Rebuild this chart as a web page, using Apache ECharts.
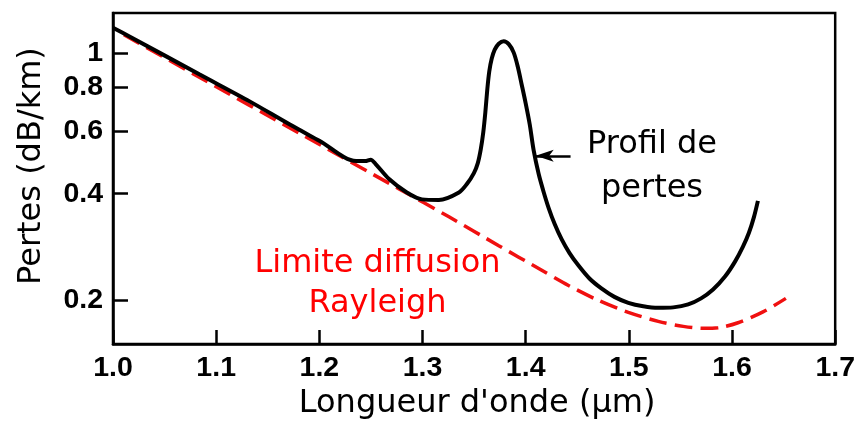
<!DOCTYPE html>
<html>
<head>
<meta charset="utf-8">
<script src="https://cdn.jsdelivr.net/npm/echarts@6/dist/echarts.min.js"></script>
<style>
html,body{margin:0;padding:0;background:#fff;}
#chart{width:858px;height:425px;}
</style>
</head>
<body>
<div id="chart"></div>
<script>
// Data
const xTicks = [1.0, 1.1, 1.2, 1.3, 1.4, 1.5, 1.6, 1.7];
const yTicks = [0.2, 0.4, 0.6, 0.8, 1];

const lossX = [1.000, 1.0164, 1.0841, 1.1324, 1.1710, 1.2000, 1.2357, 1.2444, 1.2498, 1.2546,
  1.2676, 1.2841, 1.2995, 1.3159, 1.3353, 1.3430, 1.3498, 1.3536, 1.3565, 1.3589,
  1.3609, 1.3628, 1.3647, 1.3671, 1.3700, 1.3739, 1.3787, 1.3836, 1.3884, 1.3923,
  1.3961, 1.4000, 1.4039, 1.4077, 1.4126, 1.4174, 1.4222, 1.4280, 1.4348, 1.4425,
  1.4512, 1.4618, 1.4734, 1.4860, 1.4995, 1.5140, 1.5285, 1.5430, 1.5575, 1.5700,
  1.5816, 1.5932, 1.6029, 1.6106, 1.6164, 1.6213, 1.6251];
const lossY = [1.181, 1.114, 0.870, 0.7305, 0.6291, 0.5652, 0.4948, 0.4948, 0.4996, 0.4853,
  0.4401, 0.4046, 0.3855, 0.3842, 0.4034, 0.4262, 0.4577, 0.4885, 0.5350, 0.5974,
  0.6801, 0.7897, 0.8874, 0.9656, 1.0237, 1.0643, 1.0817, 1.0608, 1.0039, 0.9167,
  0.8157, 0.7211, 0.6291, 0.5315, 0.4547, 0.4046, 0.3648, 0.3287, 0.2973, 0.2715,
  0.2503, 0.2301, 0.2157, 0.2041, 0.1963, 0.1919, 0.1900, 0.1906, 0.1943, 0.2021,
  0.2142, 0.2331, 0.2569, 0.2833, 0.3101, 0.3440, 0.3817];

const rayX = [1.0106, 1.0841, 1.1807, 1.2773, 1.3256, 1.3739, 1.4126, 1.4415, 1.4705, 1.4995,
  1.5285, 1.5527, 1.5720, 1.5865, 1.6058, 1.6300, 1.6522];
const rayY = [1.128, 0.8537, 0.5934, 0.4127, 0.3440, 0.2850, 0.2455, 0.2199, 0.1995, 0.1845,
  0.1740, 0.1684, 0.1663, 0.1669, 0.1724, 0.1851, 0.2021];

const arrowFrom = [1.4435, 0.512];
const arrowTo = [1.4097, 0.512];

const lossData = lossX.map((x, i) => [x, lossY[i]]);
const rayData = rayX.map((x, i) => [x, rayY[i]]);

const chart = echarts.init(document.getElementById('chart'), null, {renderer: 'canvas'});
chart.setOption({
  animation: false,
  backgroundColor: '#fff',
  grid: {left: 113, right: 20.5, top: 13, bottom: 79, show: true, borderColor: '#000', borderWidth: 2.5, containLabel: false},
  xAxis: {
    type: 'value', min: 1.0, max: 1.7, interval: 0.1,
    name: "Longueur d'onde (µm)", nameLocation: 'middle', nameGap: 43,
    nameTextStyle: {fontFamily: 'DejaVu Sans', fontSize: 32, color: '#000', padding: [0, 0, 0, 6]},
    axisLine: {show: true, lineStyle: {color: '#000', width: 2.5}},
    axisTick: {show: true, inside: true, length: 14, lineStyle: {color: '#000', width: 2.5}},
    axisLabel: {margin: 10, fontFamily: 'Liberation Sans', fontWeight: 'bold', fontSize: 28.5, color: '#000',
      formatter: v => v.toFixed(1)},
    splitLine: {show: false}
  },
  yAxis: {
    type: 'log', logBase: 10, min: 0.15, max: 1.30,
    name: 'Pertes (dB/km)', nameLocation: 'middle', nameGap: 65,
    nameTextStyle: {fontFamily: 'DejaVu Sans', fontSize: 32, color: '#000', padding: [0, 0, 0, 25]},
    axisLine: {show: true, lineStyle: {color: '#000', width: 2.5}},
    axisTick: {show: true, inside: true, length: 15, customValues: yTicks, lineStyle: {color: '#000', width: 2.5}},
    axisLabel: {margin: 10, fontFamily: 'Liberation Sans', fontWeight: 'bold', fontSize: 28.5, color: '#000',
      customValues: yTicks, formatter: v => String(+(+v).toFixed(1))},
    splitLine: {show: false},
    minorTick: {show: false}
  },
  series: [
    {
      name: 'Limite diffusion Rayleigh', type: 'line', data: rayData, smooth: 0.3,
      showSymbol: false, symbol: 'none', z: 2,
      lineStyle: {color: '#f01010', width: 3.5, type: [18, 8]}
    },
    {
      name: 'Profil de pertes', type: 'line', data: lossData, smooth: 0.3,
      showSymbol: false, symbol: 'none', z: 3,
      lineStyle: {color: '#000', width: 4},
      markLine: {
        silent: true, symbol: ['none', 'arrow'], symbolSize: [9, 18],
        label: {show: false},
        lineStyle: {color: '#000', width: 2.5, type: 'solid'},
        data: [[{coord: arrowFrom}, {coord: arrowTo}]]
      }
    }
  ],
  graphic: [
    {type: 'text', x: 652, y: 166.5, style: {text: 'Profil de\npertes', fontFamily: 'DejaVu Sans', fontSize: 32,
      lineHeight: 44, fill: '#000', textAlign: 'center', textVerticalAlign: 'middle'}},
    {type: 'text', x: 377.5, y: 283.5, style: {text: 'Limite diffusion\nRayleigh', fontFamily: 'DejaVu Sans', fontSize: 32,
      lineHeight: 40, fill: '#ff0000', textAlign: 'center', textVerticalAlign: 'middle'}}
  ]
});
</script>
</body>
</html>
